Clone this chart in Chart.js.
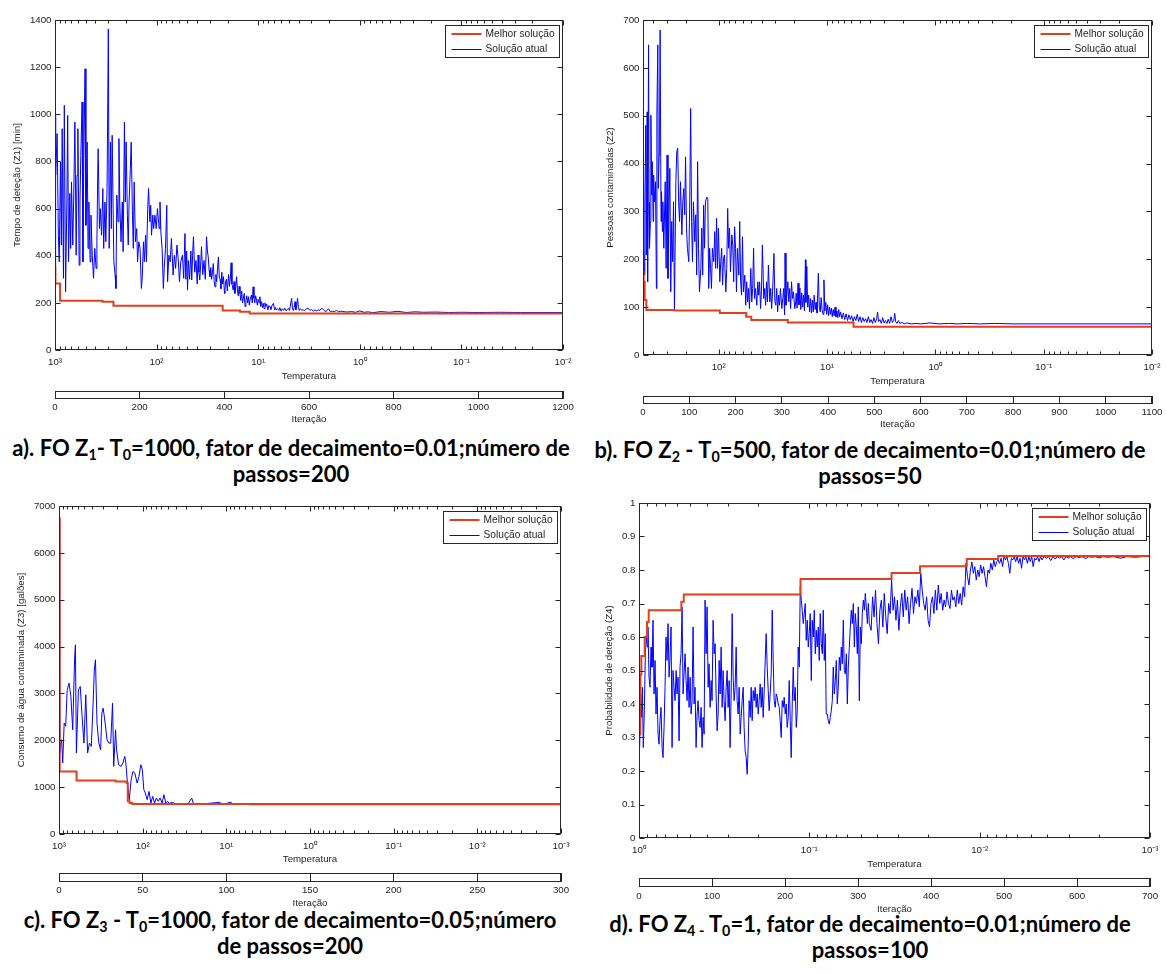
<!DOCTYPE html>
<html lang="pt">
<head>
<meta charset="utf-8">
<title>Recozimento simulado - FO Z1 a Z4</title>
<script src="https://cdn.jsdelivr.net/npm/chart.js@4.4.1/dist/chart.umd.min.js"></script>
<style>
  body { margin: 0; width: 1166px; height: 974px; background: #fff; position: relative; overflow: hidden; }
  canvas { position: absolute; }
  .legenda { position: absolute; width: 640px; text-align: center; font-family: Lato, "Open Sans", sans-serif; font-weight: 700; font-size: 22px; line-height: 26px; color: #000; white-space: nowrap; }
  .legenda sub { font-size: 0.65em; line-height: 0; vertical-align: -0.3em; }
</style>
</head>
<body>
<div class="legenda" style="left:-29px;top:435px">a). FO Z<sub>1</sub>- T<sub>0</sub>=1000, fator de decaimento=0.01;número de<br>passos=200</div>
<div class="legenda" style="left:550px;top:437px">b). FO Z<sub>2</sub> - T<sub>0</sub>=500, fator de decaimento=0.01;número de<br>passos=50</div>
<div class="legenda" style="left:-30px;top:907px">c). FO Z<sub>3</sub> - T<sub>0</sub>=1000, fator de decaimento=0.05;número<br>de passos=200</div>
<div class="legenda" style="left:550px;top:911px">d). FO Z<sub>4 -</sub> T<sub>0</sub>=1, fator de decaimento=0.01;número de<br>passos=100</div>
<script>
// pontos: [iteração, valor]

const melhorA = [[0,350],[1,282],[12,209],[112,205],[138,188],[396,168],[437,162],[460,155],[1200,155]];
const atualA = [[0,350],[1,995],[2,741],[5,918],[8,487],[10,374],[13,798],[15,445],[17,939],[20,304],[22,1038],[25,247],[28,628],[30,995],[32,374],[35,664],[37,431],[39,713],[42,445],[44,628],[47,967],[50,402],[52,741],[54,939],[57,360],[59,628],[61,826],[64,1052],[66,374],[68,812],[71,1193],[73,529],[76,882],[78,431],[80,628],[83,374],[85,572],[88,402],[91,304],[94,431],[97,346],[99,459],[101,755],[102,854],[105,515],[107,600],[110,487],[113,685],[115,431],[118,628],[120,459],[123,685],[126,1362],[128,431],[131,882],[133,515],[135,911],[139,374],[142,318],[144,261],[146,657],[149,544],[151,897],[153,628],[156,459],[159,628],[161,417],[164,967],[166,628],[168,882],[171,572],[173,445],[175,628],[178,770],[180,882],[183,572],[185,431],[187,713],[190,459],[193,515],[195,374],[198,459],[201,431],[204,261],[206,304],[209,459],[211,374],[214,487],[216,374],[219,600],[221,685],[224,544],[226,614],[228,487],[231,572],[233,515],[236,572],[239,515],[242,600],[246,515],[248,628],[250,501],[253,431],[256,261],[258,346],[261,431],[264,614],[266,289],[269,402],[272,374],[275,473],[279,318],[282,402],[285,346],[288,445],[291,388],[294,289],[297,374],[301,402],[304,304],[307,494],[309,300],[311,420],[313,254],[315,380],[318,300],[321,420],[323,297],[325,400],[327,480],[330,330],[333,380],[336,280],[338,403],[340,330],[342,297],[344,360],[346,438],[349,320],[352,380],[355,300],[358,480],[360,420],[362,395],[364,340],[366,311],[368,350],[370,300],[372,330],[374,367],[376,290],[378,268],[380,320],[382,290],[384,350],[386,395],[388,310],[390,300],[392,260],[394,330],[396,280],[398,311],[400,250],[401,240],[403,290],[405,300],[407,250],[410,320],[412,270],[414,300],[416,370],[418,280],[421,254],[423,290],[425,240],[427,270],[429,311],[431,250],[433,230],[435,270],[437,240],[439,210],[441,250],[443,200],[445,219],[447,240],[449,184],[451,210],[453,230],[455,200],[457,226],[459,190],[461,215],[464,233],[466,200],[468,268],[470,220],[472,200],[474,230],[476,212],[478,190],[480,215],[482,200],[484,226],[486,185],[488,205],[490,180],[492,198],[494,175],[496,200],[498,185],[500,195],[503,170],[505,188],[508,184],[510,172],[513,190],[516,198],[519,170],[521,180],[523,170],[526,175],[529,168],[531,180],[534,165],[537,175],[540,168],[543,177],[546,166],[549,172],[551,177],[554,168],[557,200],[559,219],[561,175],[563,168],[565,180],[567,205],[569,170],[571,190],[573,219],[575,180],[577,168],[579,175],[582,170],[586,170],[590,168],[594,175],[598,177],[602,168],[606,172],[610,165],[614,170],[618,166],[622,170],[626,168],[630,177],[634,172],[638,163],[642,166],[646,175],[650,163],[655,165],[660,163],[665,168],[670,162],[675,165],[680,163],[690,161],[700,163],[710,160],[720,166],[730,160],[740,162],[750,158],[770,163],[790,160],[810,164],[830,159],[850,162],[870,160],[900,161],[930,159],[960,160],[1000,159],[1050,160],[1100,159],[1200,159]];

const melhorB = [[0,174],[1.4,153],[3.6,115],[7.2,94],[68,93],[166,88],[223,80],[234,73],[313,68],[455,59],[1100,59]];
const atualB = [[0,174],[1,230],[3,167],[4,320],[6,480],[7,209],[9,508],[10,153],[12,648],[13,320],[14,223],[16,279],[17,501],[19,334],[20,404],[22,279],[23,376],[25,320],[27,362],[29,139],[30,501],[32,648],[33,348],[35,418],[36,501],[37,679],[39,279],[40,341],[42,258],[43,320],[45,223],[48,362],[50,181],[52,418],[54,160],[56,293],[58,390],[60,132],[62,279],[64,195],[66,320],[68,94],[71,362],[73,425],[75,432],[77,320],[79,279],[81,362],[84,251],[86,320],[88,348],[90,293],[92,414],[94,265],[96,223],[99,195],[101,320],[103,515],[105,279],[107,195],[109,320],[112,237],[114,293],[116,167],[118,404],[120,223],[122,132],[125,181],[127,265],[129,167],[131,313],[133,223],[135,320],[138,330],[140,327],[142,139],[144,223],[146,181],[148,139],[150,223],[153,195],[155,258],[157,181],[159,286],[161,181],[163,265],[166,153],[168,195],[170,223],[172,146],[174,202],[176,209],[179,132],[181,181],[183,306],[185,223],[187,265],[189,174],[192,251],[194,230],[196,153],[198,268],[200,223],[202,132],[204,223],[207,167],[209,279],[211,153],[213,125],[215,247],[217,132],[220,167],[222,104],[224,153],[226,111],[228,139],[230,97],[233,181],[235,111],[237,139],[239,223],[241,118],[243,139],[246,104],[248,153],[250,125],[252,153],[254,97],[256,132],[258,230],[261,118],[263,139],[265,104],[267,153],[269,111],[271,188],[274,111],[276,139],[278,97],[280,132],[283,212],[285,111],[287,104],[289,139],[291,90],[293,125],[295,104],[297,139],[300,97],[302,118],[304,139],[306,84],[307,213],[309,104],[313,153],[315,111],[317,139],[319,97],[321,153],[323,118],[325,132],[328,97],[330,111],[331,129],[333,98],[335,150],[337,105],[339,140],[341,95],[343,130],[345,100],[347,125],[349,92],[351,199],[352,110],[354,185],[356,100],[358,125],[360,90],[362,118],[364,88],[366,115],[368,90],[370,125],[372,95],[374,110],[376,88],[379,171],[381,100],[383,90],[385,120],[387,95],[389,85],[391,157],[393,92],[395,110],[397,85],[399,105],[401,82],[403,100],[405,85],[407,98],[409,80],[411,95],[413,82],[415,100],[417,80],[419,92],[421,78],[423,95],[425,80],[427,90],[430,76],[433,88],[436,74],[439,86],[442,72],[445,84],[448,74],[451,82],[454,70],[457,80],[460,72],[463,85],[466,70],[469,80],[472,68],[475,78],[478,70],[481,76],[484,68],[487,80],[490,68],[493,74],[496,66],[499,78],[502,68],[505,76],[507,90],[509,70],[512,74],[515,66],[518,78],[521,67],[524,72],[527,66],[530,75],[533,66],[536,80],[539,68],[542,72],[544,87],[546,70],[549,66],[552,72],[555,66],[560,68],[565,65],[570,67],[580,65],[590,66],[600,65],[620,67],[640,65],[660,66],[680,65],[700,66],[730,65],[760,66],[800,65],[1100,65]];

const melhorC = [[0,6737],[0.4,1336],[10.5,1140],[33.8,1120],[40.4,1087],[41.1,697],[42.2,661],[43.8,640],[300,640]];
const atualC = [[0,6737],[0.4,1727],[0.9,1900],[1.6,2011],[2.2,1514],[3.1,2367],[4,2300],[4.9,3077],[6,3219],[7.1,2935],[8.2,2224],[9.3,3717],[9.8,4037],[10.4,1727],[11.6,3077],[12.7,3148],[13.8,2509],[14.9,1940],[16,2971],[17.1,1727],[18.2,1940],[19.3,1869],[20.4,2793],[21.1,3504],[21.8,3717],[22.7,2367],[23.8,1940],[24.9,1798],[25.6,2580],[26.4,2686],[27.6,2367],[28.7,2011],[29.8,1940],[30.9,1940],[32,2793],[32.7,1443],[33.8,2224],[34.4,1798],[35.6,1478],[37.1,1443],[38.2,1514],[39.3,1656],[40,1500],[40.9,1087],[42,732],[43.1,1158],[44.2,1336],[45.3,1301],[46.7,1087],[47.8,1230],[48.9,1478],[49.8,1372],[50.7,945],[51.6,874],[52.7,732],[53.8,910],[54.9,661],[56,803],[57.1,661],[58.2,768],[59.3,697],[60.4,768],[61.6,661],[62.7,839],[63.8,661],[64.9,697],[66,650],[67.1,675],[69.3,650],[71.6,640],[74.9,650],[77.1,640],[79.3,768],[80.4,640],[84.9,640],[96,675],[98.2,630],[102.7,682],[103.8,630],[111.6,650],[113.8,625],[300,625]];

const melhorD = [[0,0.31],[1.8,0.487],[3.2,0.543],[7.8,0.6],[11,0.645],[13.3,0.68],[58,0.705],[61.3,0.727],[221.3,0.773],[346,0.791],[385,0.811],[449,0.833],[492,0.842],[700,0.842]];
const atualD = [[0.9,0.27],[2.3,0.43],[3.7,0.36],[4.6,0.45],[5.9,0.27],[7.3,0.38],[8.7,0.55],[10.1,0.6],[11.4,0.57],[12.3,0.63],[13.7,0.48],[15.1,0.45],[16.5,0.57],[17.8,0.51],[19.2,0.65],[20.6,0.43],[22,0.53],[23.3,0.37],[24.7,0.45],[26.1,0.31],[27.4,0.28],[28.8,0.35],[30.2,0.39],[31.6,0.27],[32.9,0.24],[34.3,0.33],[35.7,0.45],[37,0.6],[38.4,0.53],[39.8,0.64],[41.2,0.48],[42.5,0.54],[43.9,0.63],[45.3,0.27],[46.6,0.5],[48,0.45],[49.4,0.41],[50.8,0.5],[52.1,0.43],[53.5,0.48],[54.9,0.29],[56.2,0.51],[57.6,0.55],[59,0.69],[60.4,0.43],[61.7,0.49],[63.1,0.55],[64.5,0.47],[65.9,0.41],[67.2,0.51],[68.6,0.39],[70,0.48],[71.3,0.37],[72.7,0.41],[74.1,0.63],[75.5,0.4],[76.8,0.45],[78.2,0.27],[79.6,0.37],[80.9,0.41],[82.3,0.35],[83.7,0.33],[85.1,0.39],[86.4,0.27],[87.8,0.36],[89.2,0.31],[90.5,0.71],[91.9,0.55],[93.3,0.69],[94.7,0.45],[96,0.52],[97.4,0.39],[98.8,0.47],[100.1,0.41],[101.5,0.65],[102.9,0.55],[104.3,0.58],[105.6,0.43],[107,0.32],[108.4,0.37],[109.8,0.53],[111.1,0.43],[112.5,0.57],[113.9,0.39],[115.2,0.5],[116.6,0.41],[118,0.35],[119.4,0.45],[120.7,0.5],[122.1,0.39],[123.5,0.47],[124.8,0.27],[126.2,0.43],[127.6,0.67],[129,0.48],[130.3,0.41],[131.7,0.45],[133.1,0.57],[134.4,0.41],[135.8,0.37],[137.2,0.45],[138.6,0.31],[139.9,0.36],[141.3,0.41],[142.7,0.45],[144,0.33],[145.4,0.26],[146.8,0.24],[148.2,0.19],[149.5,0.27],[150.9,0.41],[152.3,0.36],[153.7,0.45],[155,0.35],[156.4,0.44],[157.8,0.41],[159.1,0.45],[160.5,0.39],[161.9,0.43],[163.3,0.37],[164.6,0.41],[166,0.46],[167.4,0.39],[168.7,0.45],[170.1,0.36],[171.5,0.44],[172.9,0.53],[174.2,0.61],[175.6,0.51],[177,0.44],[178.3,0.38],[179.7,0.43],[181.1,0.49],[182.5,0.68],[183.8,0.53],[185.2,0.41],[186.6,0.39],[188,0.43],[189.3,0.42],[190.7,0.4],[192.1,0.39],[193.4,0.35],[194.8,0.3],[196.2,0.41],[197.6,0.39],[198.9,0.42],[200.3,0.37],[201.7,0.4],[203,0.33],[204.4,0.36],[205.8,0.47],[207.2,0.35],[208.5,0.24],[209.9,0.4],[211.3,0.51],[212.6,0.41],[214,0.45],[215.4,0.33],[216.8,0.38],[218.1,0.57],[219.5,0.51],[220.9,0.75],[222.3,0.71],[223.6,0.68],[225,0.64],[226.4,0.67],[227.7,0.7],[229.1,0.59],[230.5,0.65],[231.9,0.57],[233.2,0.61],[234.6,0.67],[236,0.47],[237.3,0.65],[238.7,0.6],[240.1,0.68],[241.5,0.55],[242.8,0.62],[244.2,0.57],[245.6,0.63],[246.9,0.53],[248.3,0.67],[249.7,0.58],[251.1,0.55],[252.4,0.68],[253.8,0.53],[255.2,0.61],[256.5,0.37],[257.9,0.37],[259.3,0.35],[260.7,0.34],[262,0.36],[263.4,0.38],[264.8,0.41],[266.1,0.51],[267.5,0.43],[268.9,0.47],[270.3,0.53],[271.6,0.4],[273,0.45],[274.4,0.54],[275.8,0.5],[277.1,0.57],[278.5,0.52],[279.9,0.65],[281.2,0.5],[282.6,0.49],[284,0.55],[285.4,0.4],[286.7,0.51],[288.1,0.57],[289.5,0.63],[290.8,0.68],[292.2,0.64],[293.6,0.7],[295,0.57],[296.3,0.67],[297.7,0.63],[299.1,0.55],[300.4,0.69],[301.8,0.41],[303.2,0.63],[304.6,0.58],[305.9,0.67],[307.3,0.71],[308.7,0.68],[310,0.73],[311.4,0.69],[312.8,0.64],[314.2,0.7],[315.5,0.64],[318,0.62],[320,0.72],[322,0.66],[324,0.74],[326,0.64],[328,0.58],[330,0.68],[332,0.71],[334,0.63],[336,0.73],[338,0.66],[340,0.61],[342,0.7],[344,0.67],[346,0.77],[348,0.68],[350,0.72],[352,0.65],[354,0.71],[356,0.62],[358,0.69],[360,0.73],[362,0.66],[364,0.74],[366,0.68],[368,0.72],[370,0.64],[372,0.7],[374,0.745],[376,0.67],[378,0.72],[380,0.7],[382,0.74],[384,0.69],[386,0.79],[388,0.74],[390,0.7],[392,0.68],[394,0.72],[396,0.65],[398,0.63],[400,0.7],[402,0.72],[404,0.67],[406,0.74],[408,0.68],[410,0.755],[412,0.7],[414,0.73],[416,0.68],[418,0.71],[420,0.69],[422,0.735],[424,0.7],[426,0.685],[428,0.74],[430,0.71],[432,0.72],[434,0.69],[436,0.74],[438,0.7],[440,0.73],[442,0.695],[444,0.75],[446,0.72],[448,0.82],[450,0.78],[452,0.755],[454,0.8],[456,0.824],[458,0.79],[460,0.81],[462,0.77],[464,0.8],[466,0.78],[468,0.815],[470,0.79],[472,0.81],[474,0.78],[476,0.75],[478,0.8],[480,0.79],[482,0.82],[484,0.8],[486,0.83],[488,0.81],[490,0.825],[492,0.83],[494,0.82],[496,0.835],[498,0.81],[500,0.84],[502,0.83],[504,0.84],[506,0.82],[508,0.79],[510,0.835],[512,0.83],[514,0.84],[516,0.825],[518,0.84],[520,0.82],[522,0.835],[524,0.805],[526,0.84],[528,0.83],[530,0.84],[532,0.82],[534,0.84],[536,0.825],[538,0.84],[540,0.81],[542,0.835],[544,0.83],[546,0.84],[548,0.825],[550,0.84],[552,0.83],[555,0.84],[558,0.835],[561,0.84],[564,0.828],[567,0.84],[570,0.833],[573,0.84],[576,0.835],[579,0.84],[582,0.83],[585,0.84],[588,0.836],[591,0.84],[595,0.834],[599,0.84],[603,0.837],[607,0.84],[612,0.834],[616,0.84],[620,0.838],[625,0.84],[630,0.836],[636,0.84],[642,0.838],[650,0.84],[660,0.835],[668,0.84],[680,0.838],[690,0.84],[700,0.84]];

// eixo da temperatura: décadas com rótulo
const decadasA = [1000, 100, 10, 1, 0.1, 0.01];
const rotulosA = ['10³', '10²', '10¹', '10⁰', '10⁻¹', '10⁻²'];
const decadasB = [100, 10, 1, 0.1, 0.01];
const rotulosB = ['10²', '10¹', '10⁰', '10⁻¹', '10⁻²'];
const decadasC = [1000, 100, 10, 1, 0.1, 0.01, 0.001];
const rotulosC = ['10³', '10²', '10¹', '10⁰', '10⁻¹', '10⁻²', '10⁻³'];
const decadasD = [1, 0.1, 0.01, 0.001];
const rotulosD = ['10⁰', '10⁻¹', '10⁻²', '10⁻³'];

const nomesSeries = ['Melhor solução', 'Solução atual'];
const titulosY = ['Tempo de deteção (Z1) [min]', 'Pessoas contaminadas (Z2)', 'Consumo de água contaminada (Z3) [galões]', 'Probabilidade de deteção (Z4)'];

const azul = '#0000ff';
const vermelho = '#e2401c';
const corTexto = '#1e1e1e';
const fonte = { family: '"Liberation Sans", Arial, sans-serif', size: 9.7 };

// posição de cada painel na página (px)
const paineis = [
  { melhor: melhorA, atual: atualA, decadas: decadasA, rotulos: rotulosA, tMin: 0.01, tMax: 1000, itMax: 1200, itStep: 200, yMax: 1400, yStep: 200, titulo: titulosY[0],
    L: 55, R: 563, T: 20, B: 350, yTitX: 17.8, xTitY: 376.7, boxT: 391, boxB: 399, itLabY: 407.3, itTitY: 419 },
  { melhor: melhorB, atual: atualB, decadas: decadasB, rotulos: rotulosB, tMin: 0.01, tMax: 500, itMax: 1100, itStep: 100, yMax: 700, yStep: 100, titulo: titulosY[1],
    L: 643, R: 1152, T: 20, B: 355, yTitX: 610.5, xTitY: 381, boxT: 396, boxB: 404, itLabY: 412.7, itTitY: 424.5 },
  { melhor: melhorC, atual: atualC, decadas: decadasC, rotulos: rotulosC, tMin: 0.001, tMax: 1000, itMax: 300, itStep: 50, yMax: 7000, yStep: 1000, titulo: titulosY[2],
    L: 59, R: 561, T: 506, B: 834, yTitX: 21.6, xTitY: 859, boxT: 873, boxB: 882, itLabY: 890, itTitY: 903.3 },
  { melhor: melhorD, atual: atualD, decadas: decadasD, rotulos: rotulosD, tMin: 0.001, tMax: 1, itMax: 700, itStep: 100, yMax: 1, yStep: 0.1, titulo: titulosY[3],
    L: 639, R: 1150, T: 503, B: 838, yTitX: 609.7, xTitY: 864.3, boxT: 878, boxB: 887, itLabY: 896, itTitY: 909 }
];

// caixa do eixo com marcas para dentro, como no MATLAB
const moldura = {
  id: 'moldura',
  afterDatasetsDraw(chart, args, opts) {
    const { ctx, chartArea: a } = chart;
    const l = Math.round(a.left) + 0.5, r = Math.round(a.right) - 0.5;
    const t = Math.round(a.top) + 0.5, b = Math.round(a.bottom) - 0.5;
    ctx.save();
    ctx.strokeStyle = '#262626';
    ctx.lineWidth = 1;
    ctx.strokeRect(l, t, r - l, b - t);
    if (opts.ticks) {
      ctx.beginPath();
      [chart.scales.x, chart.scales.y].forEach(s => {
        s.ticks.forEach(tk => {
          const p = Math.round(s.getPixelForValue(tk.value)) + 0.5;
          const len = tk.menor ? 3 : 5;
          if (s.isHorizontal()) {
            ctx.moveTo(p, b); ctx.lineTo(p, b - len);
            ctx.moveTo(p, t); ctx.lineTo(p, t + len);
          } else {
            ctx.moveTo(l, p); ctx.lineTo(l + len, p);
            ctx.moveTo(r, p); ctx.lineTo(r - len, p);
          }
        });
      });
      ctx.stroke();
    }
    ctx.restore();
  }
};

// legenda dentro da área, canto superior direito
const legendaCaixa = {
  id: 'legendaCaixa',
  afterDraw(chart) {
    const { ctx, chartArea: a } = chart;
    const sets = chart.data.datasets;
    ctx.save();
    ctx.font = '10.2px "Liberation Sans", Arial, sans-serif';
    const tw = Math.max(...sets.map(d => ctx.measureText(d.label).width));
    const w = Math.round(40 + tw + 5), h = 32;
    const x = Math.round(a.right - 4 - w) + 0.5, y = Math.round(a.top + 5) + 0.5;
    ctx.fillStyle = '#fff';
    ctx.fillRect(x, y, w, h);
    ctx.strokeStyle = '#262626';
    ctx.lineWidth = 1;
    ctx.strokeRect(x, y, w, h);
    sets.forEach((d, i) => {
      const cy = Math.round(y + 8.5 + i * 15.3);
      ctx.strokeStyle = d.borderColor;
      ctx.lineWidth = d.borderWidth;
      ctx.beginPath();
      ctx.moveTo(x + 6, cy + (d.borderWidth % 2 ? 0.5 : 0));
      ctx.lineTo(x + 36, cy + (d.borderWidth % 2 ? 0.5 : 0));
      ctx.stroke();
      ctx.fillStyle = corTexto;
      ctx.textBaseline = 'middle';
      ctx.fillText(d.label, x + 40, cy + 0.5);
    });
    ctx.restore();
  }
};

function criaCanvas(left, top, w, h) {
  const cv = document.createElement('canvas');
  cv.width = w; cv.height = h;
  cv.style.left = left + 'px';
  cv.style.top = top + 'px';
  document.body.appendChild(cv);
  return cv;
}

function ticksTemperatura(p) {
  const lista = p.decadas.map(d => ({ value: d }));
  p.decadas.forEach(d => {
    for (let m = 2; m <= 9; m++) {
      const v = m * d;
      if (v < p.tMax * 0.999) lista.push({ value: v, menor: true });
    }
  });
  return lista.sort((a, b) => a.value - b.value);
}

function rotuloTemperatura(p, v) {
  const i = p.decadas.findIndex(d => Math.abs(v - d) < d * 1e-6);
  return i < 0 ? '' : p.rotulos[i];
}

function grafico(p) {
  const xH = 38;
  const cx = Math.floor(p.yTitX - 9.8);
  const top = p.T - 10;
  const cv = criaCanvas(cx, top, p.R + 12 - cx, p.B + xH - top);
  new Chart(cv, {
    type: 'line',
    data: {
      datasets: [
        { label: nomesSeries[0], data: p.melhor, xAxisID: 'xIt', borderColor: vermelho, borderWidth: 2, stepped: true, pointRadius: 0 },
        { label: nomesSeries[1], data: p.atual, xAxisID: 'xIt', borderColor: azul, borderWidth: 1, pointRadius: 0 }
      ]
    },
    options: {
      responsive: false,
      animation: false,
      events: [],
      layout: { padding: { left: 0, top: 10, right: 12, bottom: 0 } },
      plugins: { legend: { display: false }, tooltip: { enabled: false }, moldura: { ticks: true } },
      scales: {
        x: {
          type: 'logarithmic', position: 'bottom', reverse: true, min: p.tMin, max: p.tMax,
          afterBuildTicks: s => { s.ticks = ticksTemperatura(p); },
          afterFit: s => { s.height = xH; },
          grid: { display: false, drawTicks: false },
          border: { display: false },
          ticks: { autoSkip: false, maxRotation: 0, minRotation: 0, padding: 7, font: fonte, color: corTexto,
                   callback: v => rotuloTemperatura(p, v) },
          title: { display: true, text: 'Temperatura', font: fonte, color: corTexto,
                   padding: { top: 0, bottom: p.B + xH - p.xTitY - 5.82 } }
        },
        xIt: { type: 'linear', axis: 'x', position: 'bottom', display: false, min: 0, max: p.itMax },
        y: {
          type: 'linear', position: 'left', min: 0, max: p.yMax,
          afterFit: s => { s.width = p.L - cx; },
          grid: { display: false, drawTicks: false },
          border: { display: false },
          ticks: { stepSize: p.yStep, padding: 3.5, font: fonte, color: corTexto,
                   callback: v => String(Math.round(v * 100) / 100) },
          title: { display: true, text: p.titulo, font: fonte, color: corTexto,
                   padding: { top: p.yTitX - 5.82 - cx, bottom: 0 } }
        }
      }
    },
    plugins: [moldura, legendaCaixa]
  });
}

function eixoIteracao(p) {
  const itH = 31;
  const cv = criaCanvas(p.L - 20, p.boxT - 4, p.R - p.L + 40, 4 + (p.boxB - p.boxT) + itH);
  new Chart(cv, {
    type: 'line',
    data: { datasets: [] },
    options: {
      responsive: false,
      animation: false,
      events: [],
      layout: { padding: { left: 20, right: 20, top: 4, bottom: 0 } },
      plugins: { legend: { display: false }, tooltip: { enabled: false }, moldura: { ticks: false } },
      scales: {
        x: {
          type: 'linear', position: 'bottom', min: 0, max: p.itMax,
          afterFit: s => { s.height = itH; },
          grid: { drawTicks: false, color: '#262626', lineWidth: 1 },
          border: { display: false },
          ticks: { stepSize: p.itStep, padding: p.itLabY - p.boxB - 5.82, font: fonte, color: corTexto,
                   maxRotation: 0, autoSkip: false, callback: v => String(v) },
          title: { display: true, text: 'Iteração', font: fonte, color: corTexto,
                   padding: { top: 0, bottom: p.boxB + itH - p.itTitY - 5.82 } }
        },
        y: { display: false, min: 0, max: 1 }
      }
    },
    plugins: [moldura]
  });
}

paineis.forEach(p => {
  grafico(p);
  eixoIteracao(p);
});
</script>
</body>
</html>
